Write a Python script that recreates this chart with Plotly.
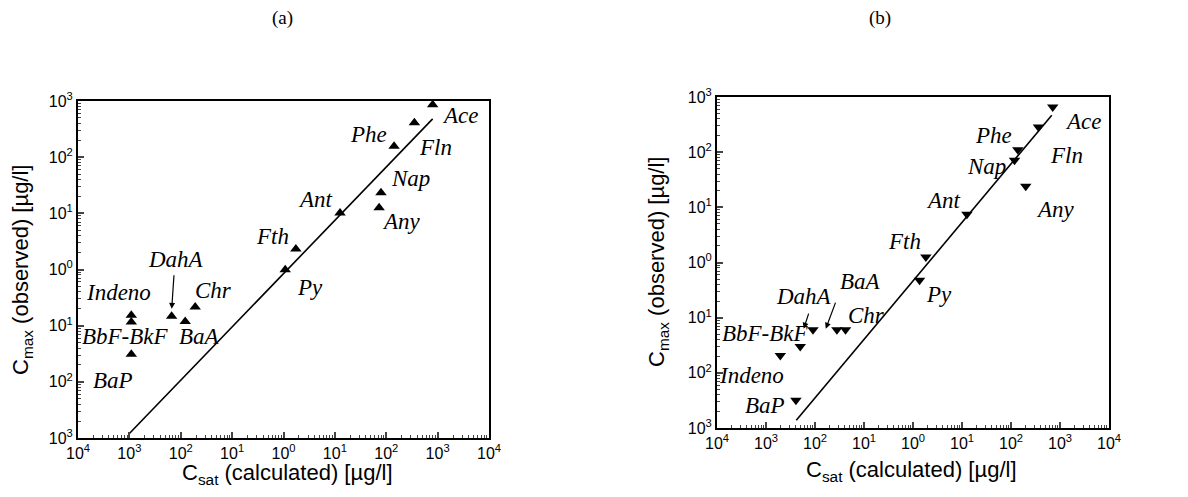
import plotly.graph_objects as go

# ---------------- data ----------------
compounds_a = ["Ace", "Fln", "Phe", "Nap", "Any", "Ant", "Fth", "Py", "Chr", "DahA", "BaA", "Indeno", "BbF-BkF", "BaP"]
csat_a = [800, 353, 142, 79, 72.6, 12.6, 1.74, 1.08, 0.0191, 0.00664, 0.0122, 0.00109, 0.00109, 0.00109]
cmax_a = [861, 411, 156, 23.3, 12.6, 10.1, 2.32, 0.99, 0.215, 0.147, 0.119, 0.153, 0.116, 0.031]
line_a_x = [0.001, 800]
line_a_y = [0.0012, 480]

compounds_b = ["Ace", "Fln", "Phe", "Nap", "Any", "Ant", "Fth", "Py", "DahA", "BaA", "Chr", "BbF-BkF", "Indeno", "BaP"]
csat_b = [711, 363, 138, 118, 200, 12.6, 1.83, 1.36, 0.0091, 0.028, 0.042, 0.005, 0.00196, 0.00408]
cmax_b = [659, 286, 111, 71, 24, 7.5, 1.26, 0.475, 0.0605, 0.0605, 0.0605, 0.030, 0.0207, 0.00318]
line_b_x = [0.00415, 679]
line_b_y = [0.00138, 466]

# label positions (log10 units)
labels_a = [("Ace", 3.436, 2.745), ("Phe", 1.653, 2.407), ("Fln", 2.95, 2.169), ("Nap", 2.477, 1.617),
            ("Any", 2.30, 0.846), ("Ant", 0.616, 1.243), ("Fth", -0.207, 0.590), ("Py", 0.506, -0.312),
            ("DahA", -2.088, 0.175), ("Chr", -1.361, -0.371), ("Indeno", -3.209, -0.401),
            ("BbF-BkF", -3.079, -1.19), ("BaA", -1.634, -1.19), ("BaP", -3.319, -1.973)]
labels_b = [("Ace", 3.478, 2.565), ("Phe", 1.642, 2.305), ("Fln", 3.138, 1.943), ("Nap", 1.493, 1.743),
            ("Any", 2.90, 0.958), ("Ant", 0.623, 1.115), ("Fth", -0.18, 0.372), ("Py", 0.521, -0.583),
            ("BaA", -1.063, -0.353), ("DahA", -2.219, -0.625), ("Chr", -0.941, -0.958),
            ("BbF-BkF", -3.014, -1.29), ("Indeno", -3.286, -2.045), ("BaP", -3.014, -2.589)]
# arrows: (tail x, tail y, head x, head y) in log10 units
arrows_a = [(-2.13, -0.075, -2.176, -0.70)]
arrows_b = [(-2.12, -0.90, -2.23, -1.20), (-1.57, -0.70, -1.78, -1.20)]

tick_vals = [1e-4, 1e-3, 1e-2, 1e-1, 1, 10, 100, 1e3, 1e4]
x_tick_text = ["10<sup>4</sup>", "10<sup>3</sup>", "10<sup>2</sup>", "10<sup>1</sup>", "10<sup>0</sup>",
               "10<sup>1</sup>", "10<sup>2</sup>", "10<sup>3</sup>", "10<sup>4</sup>"]
y_tick_vals = [1e-3, 1e-2, 1e-1, 1, 10, 100, 1e3]
y_tick_text = ["10<sup>3</sup>", "10<sup>2</sup>", "10<sup>1</sup>", "10<sup>0</sup>",
               "10<sup>1</sup>", "10<sup>2</sup>", "10<sup>3</sup>"]

minor_vals = [k * 10.0 ** e for e in range(-4, 4) for k in range(2, 10)]

fig = go.Figure()
fig.add_trace(go.Scatter(x=line_a_x, y=line_a_y, mode="lines", line=dict(color="black", width=1.6),
                         xaxis="x", yaxis="y", showlegend=False))
fig.add_trace(go.Scatter(x=csat_a, y=cmax_a, mode="markers", text=compounds_a,
                         marker=dict(symbol="triangle-up", size=10, color="black"),
                         xaxis="x", yaxis="y", showlegend=False))
fig.add_trace(go.Scatter(x=line_b_x, y=line_b_y, mode="lines", line=dict(color="black", width=1.6),
                         xaxis="x2", yaxis="y2", showlegend=False))
fig.add_trace(go.Scatter(x=csat_b, y=cmax_b, mode="markers", text=compounds_b,
                         marker=dict(symbol="triangle-down", size=10, color="black"),
                         xaxis="x2", yaxis="y2", showlegend=False))

tickfont = dict(family="Liberation Sans, Arial", size=16, color="black")


def xaxis(dom, anchor):
    return dict(type="log", domain=dom, anchor=anchor, range=[-4, 4], automargin=False,
                tickvals=tick_vals, ticktext=x_tick_text, ticks="inside", ticklen=6, tickwidth=1.5,
                minor=dict(tickvals=minor_vals, ticks="inside", ticklen=3, tickwidth=1, showgrid=False),
                showline=True, linewidth=2, linecolor="black", mirror=True, showgrid=False,
                zeroline=False, tickfont=tickfont)


def yaxis(dom, anchor):
    return dict(type="log", domain=dom, anchor=anchor, range=[-3, 3], automargin=False,
                tickvals=y_tick_vals, ticktext=y_tick_text, ticks="inside", ticklen=6, tickwidth=1.5,
                minor=dict(tickvals=minor_vals, ticks="inside", ticklen=3, tickwidth=1, showgrid=False),
                showline=True, linewidth=2, linecolor="black", mirror=True, showgrid=False,
                zeroline=False, tickfont=tickfont)


labfont = dict(family="Liberation Serif, Times New Roman", size=23, color="black")
anns = []
for name, lx, ly in labels_a:
    anns.append(dict(x=lx, y=ly, xref="x", yref="y", text="<i>%s</i>" % name, showarrow=False, font=labfont))
for name, lx, ly in labels_b:
    anns.append(dict(x=lx, y=ly, xref="x2", yref="y2", text="<i>%s</i>" % name, showarrow=False, font=labfont))
for tx, ty, hx, hy in arrows_a:
    anns.append(dict(x=hx, y=hy, ax=tx, ay=ty, xref="x", yref="y", axref="x", ayref="y", text="",
                     showarrow=True, arrowhead=2, arrowsize=1, arrowwidth=1.2, arrowcolor="black"))
for tx, ty, hx, hy in arrows_b:
    anns.append(dict(x=hx, y=hy, ax=tx, ay=ty, xref="x2", yref="y2", axref="x2", ayref="y2", text="",
                     showarrow=True, arrowhead=2, arrowsize=1, arrowwidth=1.2, arrowcolor="black"))

titlefont = dict(family="Liberation Sans, Arial", size=22, color="black")
ytitle = "C<sub>max</sub> (observed) [µg/l]"
xtitle = "C<sub>sat</sub> (calculated) [µg/l]"
paper_texts = [
    ("(a)", 282, 18, 0, dict(family="Liberation Serif, Times New Roman", size=19, color="black")),
    ("(b)", 880, 18, 0, dict(family="Liberation Serif, Times New Roman", size=19, color="black")),
    (ytitle, 22, 270, -90, titlefont),
    (ytitle, 658, 262, -90, titlefont),
    (xtitle, 287, 474, 0, titlefont),
    (xtitle, 912, 471, 0, titlefont),
]
for txt, px, py, ang, fnt in paper_texts:
    anns.append(dict(x=px / 1188, y=1 - py / 497, xref="paper", yref="paper", text=txt, textangle=ang,
                     xanchor="center", yanchor="middle", showarrow=False, font=fnt))

fig.update_layout(
    width=1188, height=497, margin=dict(l=0, r=0, t=0, b=0, autoexpand=False),
    paper_bgcolor="white", plot_bgcolor="white",
    xaxis=xaxis([78 / 1188, 489 / 1188], "y"),
    yaxis=yaxis([1 - 438 / 497, 1 - 101 / 497], "x"),
    xaxis2=xaxis([717 / 1188, 1109 / 1188], "y2"),
    yaxis2=yaxis([1 - 428 / 497, 1 - 97 / 497], "x2"),
    annotations=anns,
)

fig.write_html("out.html")
